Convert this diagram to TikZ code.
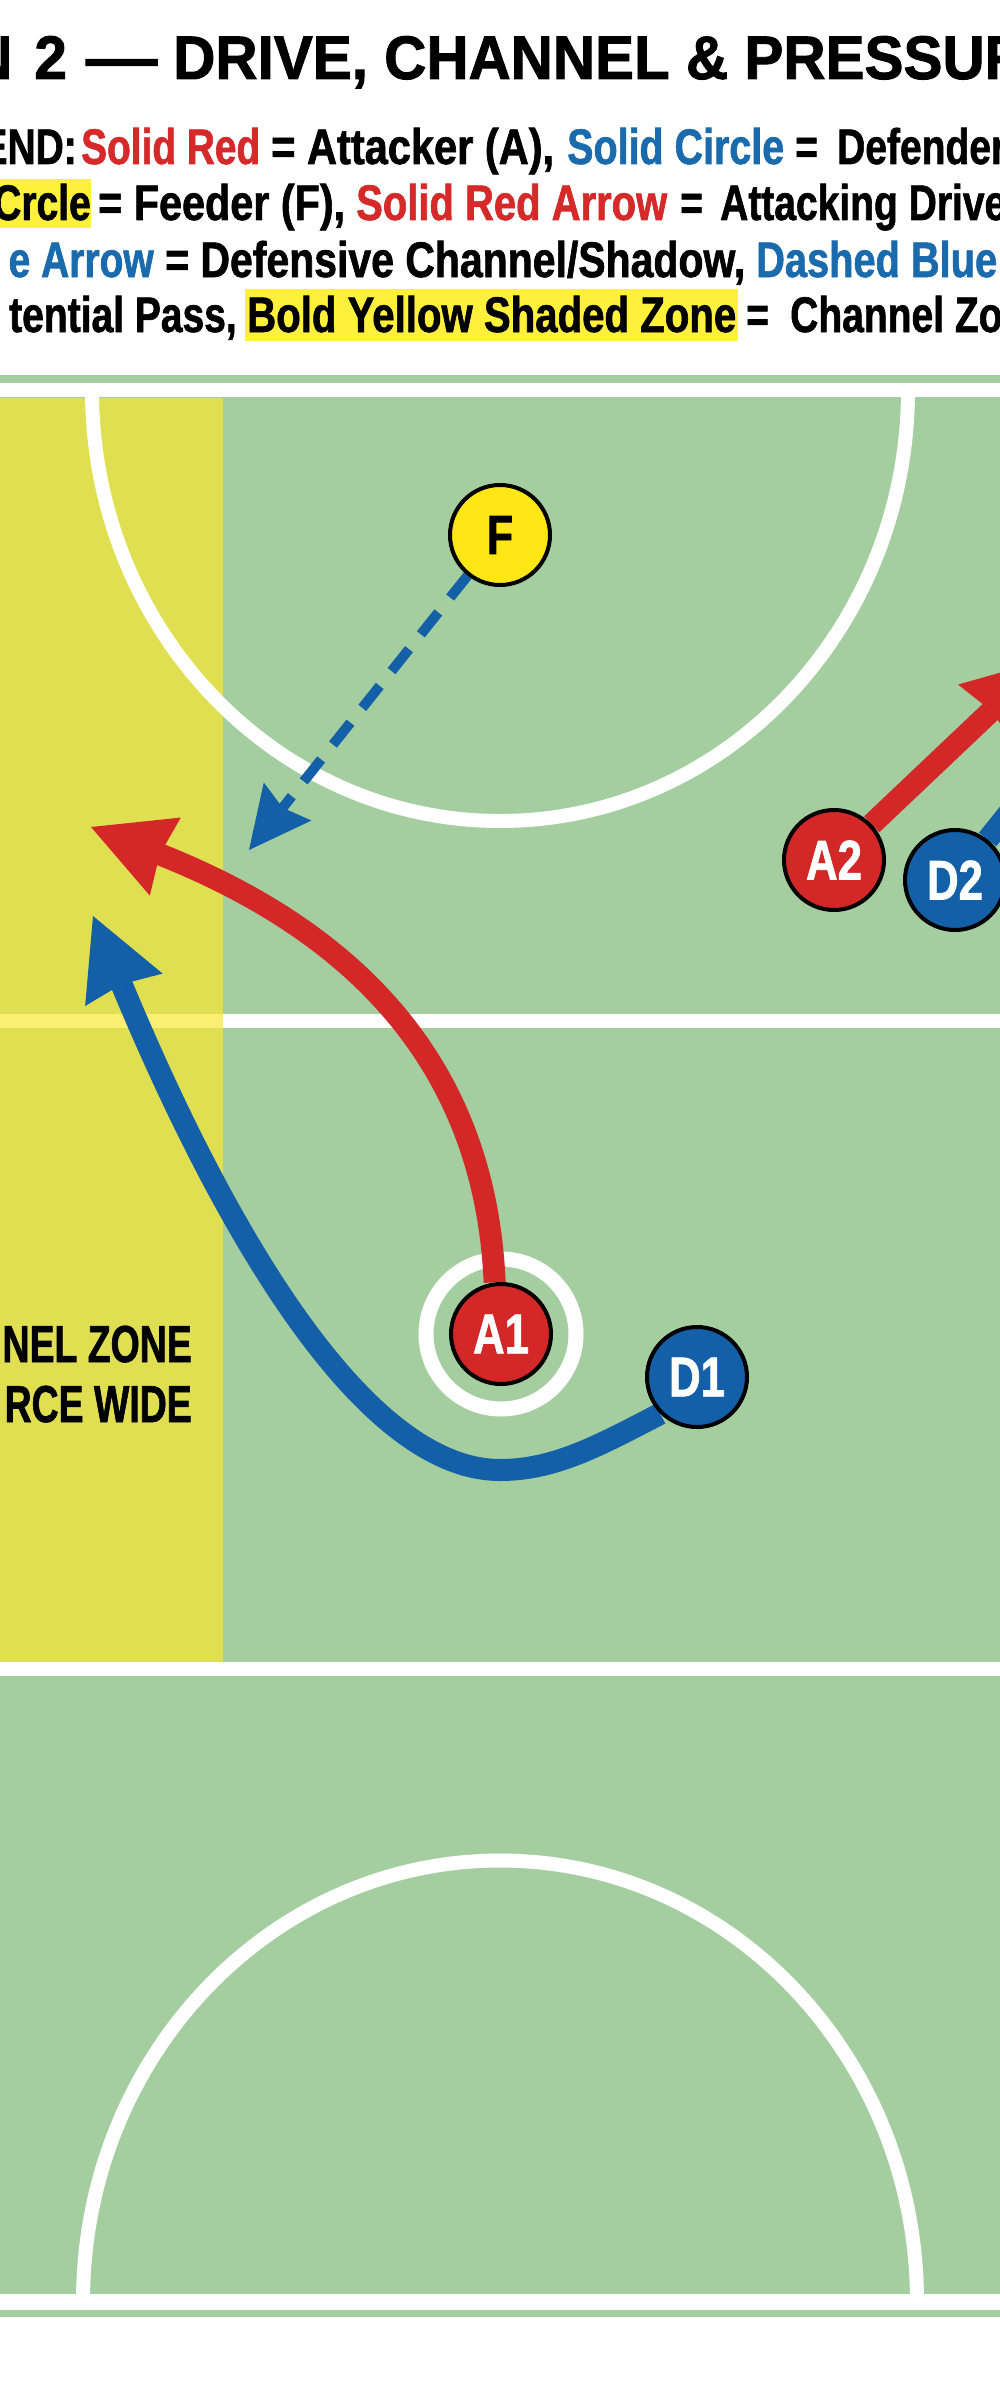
\documentclass[tikz,border=0pt]{standalone}
\usepackage{fontspec}
\usepackage{graphicx}
\setmainfont{Liberation Sans}
\newfontfamily\titlefont[FakeStretch=0.95,FakeBold=1.5]{Liberation Sans}
\newfontfamily\condfont[FakeStretch=0.78,FakeBold=1.2]{Liberation Sans}
\newfontfamily\zonefont[FakeStretch=0.72,FakeBold=1.2]{Liberation Sans}
\newcommand\legseg[2]{\resizebox{#1pt}{\height}{#2}}
\newcommand\eqbox[1]{\makebox[#1pt][l]{=}}
\usetikzlibrary{arrows.meta}
\definecolor{court}{RGB}{164,206,160}
\definecolor{zone}{RGB}{224,223,82}
\definecolor{zoneline}{RGB}{250,238,115}
\definecolor{attred}{RGB}{212,40,40}
\definecolor{defblue}{RGB}{20,96,168}
\definecolor{feedyel}{RGB}{255,230,20}
\definecolor{legred}{RGB}{214,42,42}
\definecolor{legblue}{RGB}{26,106,174}
\definecolor{hilite}{RGB}{255,240,60}
\pgfdeclarelayer{courtlayer}
\pgfdeclarelayer{arrowlayer}
\pgfsetlayers{courtlayer,arrowlayer,main}
\begin{document}
\begin{tikzpicture}[x=1pt,y=-1pt,
  courtline/.style={draw=white,line width=14pt},
  player/.style={circle,draw=black,line width=4pt,minimum size=100pt,inner sep=0pt,
    font={\condfont\bfseries\fontsize{56}{56}\selectfont}},
  attacker/.style={player,fill=attred,text=white},
  defender/.style={player,fill=defblue,text=white},
  feeder/.style={player,fill=feedyel,text=black,font={\condfont\bfseries\fontsize{55}{55}\selectfont}},
  drive/.style={draw=attred,line width=22pt,-{Stealth[length=80pt,width=84pt,inset=6pt,line width=0pt]}},
  shadow/.style={draw=defblue,line width=22pt,-{Stealth[length=80pt,width=84pt,inset=6pt,line width=0pt]}},
  pass/.style={draw=defblue,line width=10pt,dash pattern=on 28pt off 19pt,
    -{Stealth[length=62pt,width=61pt,inset=8pt,line width=0pt]}},
  legend/.style={anchor=base west,inner sep=0pt,font={\condfont\bfseries\fontsize{50}{50}\selectfont}},
  legendr/.style={legend,anchor=base east},
  zonetext/.style={anchor=base east,inner sep=0pt,font={\zonefont\bfseries\fontsize{52}{52}\selectfont}},
]
\useasboundingbox (0,0) rectangle (1000,2400);

% players
\node[feeder] (F) at (500,535) {F};
\node[attacker] (A1) at (501,1334) {A1};
\node[attacker] (A2) at (834,860) {A2};
\node[defender] (D1) at (697,1377) {D1};
\node[defender] (D2) at (955,880) {D2};

\coordinate (A1tip) at (91,827);
\coordinate (D1tip) at (93,916);
\coordinate (D1low) at (500,1470);
\coordinate (Ftip) at (249,850);
\coordinate (A2tip) at (1045,660);
\coordinate (D2tip) at (1100,700);

\begin{pgfonlayer}{courtlayer}
  \fill[white] (0,0) rectangle (1000,2400);
  % highlights
  \fill[hilite] (-5,179) rectangle (91,228);
  \fill[hilite] (245,289) rectangle (738,341);
  % court
  \fill[court] (0,375) rectangle (1000,2317);
  \fill[zone] (0,398) rectangle (223,1662);
  \draw[courtline] (0,390) -- (1000,390);
  \draw[courtline] (92,390) arc[start angle=180,end angle=360,x radius=408pt,y radius=431pt];
  \draw[courtline] (0,1669) -- (1000,1669);
  \draw[courtline,line width=16pt] (0,2301.5) -- (1000,2301.5);
  \draw[courtline] (83,2301.5) arc[start angle=180,end angle=0,x radius=417pt,y radius=441pt];
  \draw[courtline] (223,1021) -- (1000,1021);
  \draw[courtline,draw=zoneline] (0,1021) -- (223,1021);
  \draw[draw=white,line width=15pt] (A1.center) circle[radius=75pt];
\end{pgfonlayer}

\begin{pgfonlayer}{arrowlayer}
  \draw[drive] (A1.97) .. controls (485,1060) and (350,930) .. (A1tip);
  \draw[shadow] (D1.225) .. controls (600,1445) and (555,1470) .. (D1low)
     .. controls (330,1470) and (170,1100) .. (D1tip);
  \draw[pass] (F) -- (Ftip);
  \draw[drive] (A2) -- (A2tip);
  \draw[shadow] (D2) -- (D2tip);
\end{pgfonlayer}

% title
\node[anchor=base west,inner sep=0pt,font={\titlefont\bfseries\fontsize{61.5}{61.5}\selectfont}] (title) at (173,79)
  {\llap{N\kern22pt2\kern19pt\scalebox{1.22}[1]{—}\kern16pt}DRIVE, CHANNEL \& PRESSUR};

% legend line 1
\node[legendr] (l1a) at (77,164) {END:};
\node[legend,text=legred] (l1b) at (81,164) {\legseg{179}{Solid Red}};
\node[legend] (l1c) at (271,164) {\legseg{283}{= Attacker (A),}};
\node[legend,text=legblue] (l1d) at (567,164) {\legseg{217}{Solid Circle}};
\node[legend] (l1e) at (795,164) {\eqbox{42}Defender};
% legend line 2
\node[legendr] (l2a) at (91,220) {Crcle};
\node[legend] (l2b) at (98,220) {\legseg{247}{= Feeder (F),}};
\node[legend,text=legred] (l2c) at (356,220) {\legseg{311}{Solid Red Arrow}};
\node[legend] (l2d) at (680,220) {\eqbox{40}Attacking Drive};
% legend line 3
\node[legendr,text=legblue] (l3a) at (154,277) {e Arrow};
\node[legend] (l3b) at (165,277) {\legseg{580}{= Defensive Channel/Shadow,}};
\node[legend,text=legblue] (l3c) at (756,277) {\legseg{241}{Dashed Blue}};
% legend line 4
\node[legendr] (l4a) at (237,332) {tential Pass,};
\node[legend] (l4b) at (247,332) {\legseg{489}{Bold Yellow Shaded Zone}};
\node[legend] (l4c) at (746,332) {\eqbox{44}Channel Zo};

% zone label
\node[zonetext] (zone1) at (192,1362) {NEL ZONE};
\node[zonetext] (zone2) at (192,1422) {RCE WIDE};
\end{tikzpicture}
\end{document}
